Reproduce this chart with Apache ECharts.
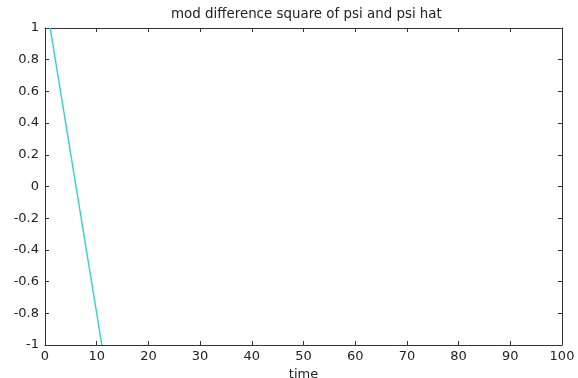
<!DOCTYPE html>
<html><head><meta charset="utf-8">
<script src="https://cdn.jsdelivr.net/npm/echarts@6/dist/echarts.min.js"></script>
<style>html,body{margin:0;padding:0;background:#fff}#c{width:578px;height:378px}</style>
</head><body><div id="c"></div>
<script>
var titleText = 'mod difference square of psi and psi hat';
var xLabel = 'time';
var timeValues = [1, 11];
var psiValues = [1, -1];

var chart = echarts.init(document.getElementById('c'));
var font = 'DejaVu Sans, sans-serif';
function axisCommon(o) {
  o.axisLine = {show: true, onZero: false, lineStyle: {color: '#333', width: 1}};
  o.axisTick = {show: true, inside: true, length: 4, lineStyle: {color: '#333'}};
  o.splitLine = {show: false};
  return o;
}
chart.setOption({
  animation: false,
  backgroundColor: '#fff',
  title: {text: titleText, left: 166, top: 3,
    textStyle: {fontFamily: font, fontSize: 13.4, fontWeight: 'normal', color: '#222'}},
  grid: {left: 45, right: 16, top: 28, bottom: 33, containLabel: false, outerBoundsMode: 'none'},
  xAxis: [
    axisCommon({type: 'value', min: 0, max: 100, interval: 10, position: 'bottom',
      name: xLabel, nameLocation: 'middle', nameGap: 21,
      nameTextStyle: {fontFamily: font, fontSize: 13, color: '#222'},
      axisLabel: {fontFamily: font, fontSize: 13, color: '#222', margin: 5}}),
    axisCommon({type: 'value', min: 0, max: 100, interval: 10, position: 'top',
      axisLabel: {show: false}})
  ],
  yAxis: [
    axisCommon({type: 'value', min: -1, max: 1, interval: 0.2, position: 'left',
      axisLabel: {fontFamily: font, fontSize: 13, color: '#222', margin: 6,
        formatter: function(v){ return String(Math.round(v*10)/10); }}}),
    axisCommon({type: 'value', min: -1, max: 1, interval: 0.2, position: 'right',
      axisLabel: {show: false}})
  ],
  series: [{
    type: 'line', xAxisIndex: 0, yAxisIndex: 0, showSymbol: false,
    lineStyle: {color: '#36d2d6', width: 1.5},
    data: timeValues.map(function(t, i){ return [t, psiValues[i]]; })
  }]
});
</script></body></html>
